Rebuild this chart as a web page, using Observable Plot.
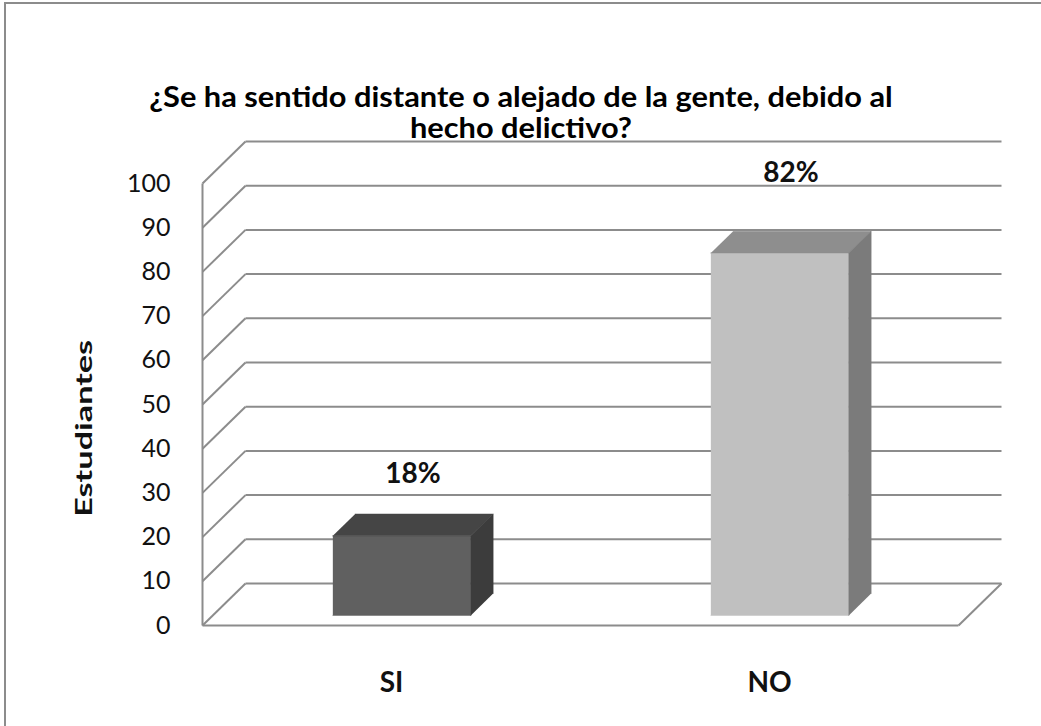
<!DOCTYPE html>
<html>
<head>
<meta charset="utf-8">
<script src="https://cdn.jsdelivr.net/npm/d3@7"></script>
<script src="https://cdn.jsdelivr.net/npm/@observablehq/plot@0.6"></script>
<style>
  html, body { margin: 0; padding: 0; background: #fff; }
  #wrap { position: relative; width: 1041px; height: 726px; overflow: hidden; background: #fff; }
  #frame { position: absolute; left: 4px; top: 2px; width: 1100px; height: 800px; border-top: 2px solid #8c8c8c; border-left: 2px solid #8c8c8c; box-sizing: border-box; pointer-events: none; }
  #title { position: absolute; left: 0; top: 81px; width: 1041px; text-align: center; font-family: Lato, "Open Sans", sans-serif; font-weight: bold; font-size: 28px; line-height: 31px; color: #000; }
  #title span { display: inline-block; transform: scaleX(1.1); transform-origin: center; }
  #chart { position: absolute; left: 0; top: 0; }
</style>
</head>
<body>
<div id="wrap">
  <div id="chart"></div>
  <div id="frame"></div>
  <div id="title"><span>¿Se ha sentido distante o alejado de la gente, debido al</span><br><span>hecho delictivo?</span></div>
</div>
<script>
// ---- data ----
const categories = ["SI", "NO"];
const values = [18, 82];
const valueLabels = ["18%", "82%"];
const yTicks = [0, 10, 20, 30, 40, 50, 60, 70, 80, 90, 100];
const yAxisTitle = "Estudiantes";

// ---- styling / 3D layout constants ----
const frontColors = ["#606060", "#c0c0c0"];
const topColors   = ["#454545", "#8e8e8e"];
const sideColors  = ["#3c3c3c", "#7b7b7b"];
const gridColor = "#8c8c8c";

// x scale: one slot per category (linear, 0..n); y scale: 0..100
const n = categories.length;
const DX = 43 / 378;     // depth shift in x units (one slot = 378 px)
const DY = 42 / 4.42;    // depth shift in y units
const halfW = 0.1825;    // half bar width in slot units
const f0 = 0.24, f1 = 0.76; // bar front/back depth fractions

const P = (x, y, f) => ({x: x + f * DX, y: y + f * DY});

const bars = categories.map((c, i) => ({c, i, v: values[i], label: valueLabels[i], cx: i + 0.5}));

const polys = [];
bars.forEach(b => {
  const l = b.cx - halfW, r = b.cx + halfW, v = b.v;
  const top = [P(l, v, f0), P(r, v, f0), P(r, v, f1), P(l, v, f1)];
  const side = [P(r, 0, f0), P(r, v, f0), P(r, v, f1), P(r, 0, f1)];
  const front = [P(l, 0, f0), P(r, 0, f0), P(r, v, f0), P(l, v, f0)];
  front.forEach(p => polys.push({...p, id: b.c + "-front", fill: frontColors[b.i]}));
  top.forEach(p => polys.push({...p, id: b.c + "-top", fill: topColors[b.i]}));
  side.forEach(p => polys.push({...p, id: b.c + "-side", fill: sideColors[b.i]}));
});

const lineStyle = {stroke: gridColor, strokeWidth: 2};

const chart = Plot.plot({
  width: 1041,
  height: 726,
  marginLeft: 202,
  marginRight: 83,
  marginTop: 183,
  marginBottom: 101,
  style: {fontFamily: "Lato, 'Open Sans', sans-serif", background: "transparent", color: "#000"},
  x: {type: "linear", domain: [0, n], axis: null},
  y: {type: "linear", domain: [0, 100], axis: null},
  color: {type: "identity"},
  marks: [
    // back wall gridlines
    Plot.link(yTicks, {x1: DX, x2: n + DX, y1: d => d + DY, y2: d => d + DY, ...lineStyle}),
    // left wall diagonals
    Plot.link(yTicks, {x1: 0, y1: d => d, x2: DX, y2: d => d + DY, ...lineStyle}),
    // front vertical axis line
    Plot.link([0], {x1: 0, x2: 0, y1: 0, y2: 100, ...lineStyle}),
    // floor front and right edges
    Plot.link([0], {x1: 0, x2: n, y1: 0, y2: 0, ...lineStyle}),
    Plot.link([0], {x1: n, x2: n + DX, y1: 0, y2: DY, ...lineStyle}),
    // 3D bars
    Plot.line(polys, {x: "x", y: "y", z: "id", fill: "fill", stroke: "fill", strokeWidth: 0.5, curve: "linear"}),
    // y tick labels
    Plot.text(yTicks, {x: 0, y: d => d, text: d => String(d), textAnchor: "end", dx: -32, fontSize: 25, fill: "#111"}),
    // category labels
    Plot.text(bars, {x: "cx", y: 0, text: "c", dy: 58, fontSize: 28, fontWeight: "bold", fill: "#111"}),
    // value labels
    Plot.text(bars, {x: d => d.cx + 0.5 * DX, y: d => d.v * 1.064 + 15.05, text: "label", fontSize: 28, fontWeight: "bold", fill: "#111"}),
    // y axis title
    Plot.text([yAxisTitle], {x: 0, y: 44.6, text: d => d, rotate: -90, dx: -118, fontSize: 23, fontWeight: "bold", fill: "#111", className: "ytitle"})
  ]
});

document.getElementById("chart").appendChild(chart);
d3.select(chart).selectAll(".ytitle text").attr("textLength", 177).attr("lengthAdjust", "spacingAndGlyphs");
</script>
</body>
</html>
